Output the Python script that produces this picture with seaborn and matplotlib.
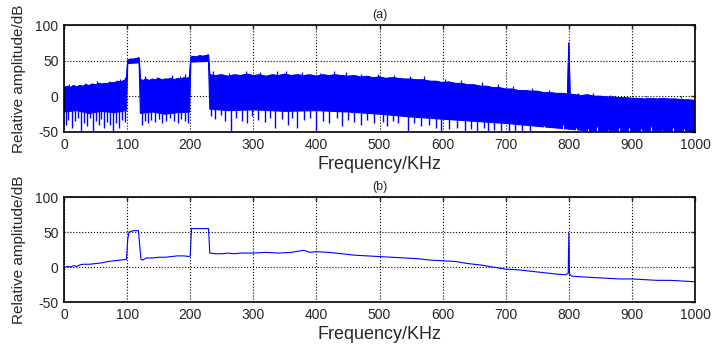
import matplotlib
matplotlib.use("Agg")
import matplotlib.pyplot as plt
import numpy as np
import pandas as pd
import seaborn as sns

# (a) noisy spectrum: upper edge of the dense blue band (kHz, dB)
hi_f = [0, 5, 10, 15, 20, 25, 30, 35, 40, 45, 50, 55, 60, 65, 70, 75, 80, 85, 90, 95, 99,
        101, 105, 110, 115, 119,
        121, 125, 130, 135, 140, 145, 150, 155, 160, 165, 170, 175, 180, 185, 190, 195, 199,
        201, 205, 210, 215, 220, 225, 229,
        231, 240, 250, 260, 270, 280, 290, 300, 310, 320, 330, 340, 350, 360, 370, 380,
        390, 400, 410, 420, 430, 440, 450,
        460, 470, 480, 490, 500, 510, 520, 530, 540, 550, 560, 570, 580, 590, 600, 610,
        620, 630, 640, 650, 660, 670, 680, 690, 700, 710, 720, 730, 740, 750, 760, 770,
        780, 790, 798, 800, 802,
        810, 820, 830, 840, 850, 860, 870, 880, 890, 900, 910, 920, 930, 940, 950, 960,
        970, 980, 990, 1000]
hi_db = [12, 14, 12, 15, 13, 15, 14, 16, 15, 17, 16, 18, 17, 18, 18, 19, 19, 21, 20, 22, 24,
         51, 52, 52, 53, 54,
         24, 22, 24, 22, 24, 23, 25, 23, 24, 24, 25, 23, 25, 24, 26, 25, 27,
         55, 56, 55, 57, 56, 57, 58,
         30, 29, 30, 28, 30, 29, 31, 29, 30, 28, 30, 29, 31, 29, 30, 29,
         30, 28, 30, 29, 30, 29, 28,
         29, 27, 28, 26, 27, 25, 26, 25, 24, 24, 23, 23, 21, 21, 19, 20,
         18, 18, 16, 16, 14, 14, 12, 12, 10, 10, 8, 8, 7, 7, 5, 5,
         4, 4, 3, 75, 3,
         2, 1, 2, 0, 0, -1, -1, -2, -2, -3, -3, -4, -3, -4, -3, -4,
         -4, -5, -5, -6]

# thin upward spikes poking out of the top edge
up_f = [8, 33, 52, 71, 88, 96, 128, 147, 171, 183, 192, 236, 262, 289, 311, 338, 352,
        377, 405, 428, 447, 471, 498, 523, 548, 571, 603, 629, 662, 688, 712, 741, 768,
        815, 838, 866, 889, 923, 951, 978]
up_db = [17, 19, 21, 22, 25, 27, 28, 27, 30, 29, 31, 35, 33, 36, 34, 36, 35,
         34, 33, 35, 34, 32, 31, 30, 29, 28, 25, 23, 20, 17, 14, 12, 9,
         5, 4, 2, 1, -1, 0, -2]

# lower edge of the solid part of the band
lo_f = [0, 20, 40, 60, 80, 99, 101, 119, 121, 140, 160, 180, 199, 201, 229, 231, 260, 300,
        350, 400, 450, 500, 550, 600, 650, 700, 750, 800, 850, 900, 950, 1000]
lo_db = [-22, -20, -24, -21, -23, -20, 46, 47, -24, -22, -25, -23, -22, 48, 49, -18, -20, -19,
         -21, -20, -22, -25, -29, -32, -35, -38, -42, -46, -50, -50, -50, -50]

# deep downward spikes below the solid band
spike_f = [3, 7, 12, 17, 22, 27, 31, 36, 41, 46, 50, 55, 59, 64, 68, 73, 78, 83, 87, 92, 97,
           123, 128, 133, 138, 144, 150, 156, 162, 168, 174, 180, 186, 192, 197,
           233, 240, 248, 255, 265, 272, 282, 290, 298, 308, 318, 327, 335, 345, 355, 362,
           370, 380, 390, 400, 410, 420, 432, 440, 450,
           460, 470, 480, 492, 505, 512, 522, 530, 545, 555, 565, 578, 590, 598, 610, 622,
           635, 645, 655, 665, 672, 682, 692, 705, 715, 725, 738]
spike_db = [-40, -33, -45, -35, -30, -50, -38, -42, -30, -50, -35, -40, -32, -45, -36, -40, -50, -38, -44, -33, -36,
            -40, -35, -38, -33, -36, -32, -38, -34, -30, -35, -38, -32, -34, -38,
            -28, -32, -26, -35, -50, -30, -34, -38, -28, -33, -36, -30, -45, -32, -40, -30,
            -44, -33, -30, -48, -34, -38, -30, -42, -33,
            -36, -40, -33, -38, -36, -42, -35, -38, -48, -38, -42, -40, -44, -50, -46, -44,
            -50, -46, -48, -44, -50, -47, -49, -48, -50, -49, -50]

# small white gaps rising from the floor at high frequency
gap_f = [760, 775, 790, 812, 830, 845, 862, 880, 895, 915, 930, 948, 965, 982]
gap_db = [-42, -45, -40, -44, -46, -43, -47, -44, -45, -46, -43, -47, -44, -46]

# (b) smoothed spectrum
smooth_f = [0, 5, 10, 15, 20, 25, 30, 40, 50, 60, 70, 80, 90, 99, 101, 103, 110, 118, 120,
            122, 125, 130, 140, 150, 160, 170, 180, 190, 198, 200, 202, 215, 229, 231, 240,
            250, 260, 270, 280, 290, 300, 320, 340, 360, 380, 390, 400, 420, 440, 460, 480,
            500, 520, 540, 560, 580, 600, 620, 640, 660, 680, 700, 720, 740, 760, 780, 795,
            799, 800, 801, 805, 820, 840, 860, 880, 900, 920, 940, 960, 980, 1000]
smooth_db = [-1, 1, 0, 2, 1, 3, 4, 4, 5, 6, 8, 9, 10, 11, 40, 50, 52, 52, 30,
             11, 10, 13, 13, 14, 14, 15, 16, 16, 15, 16, 55, 55, 55, 20, 19,
             19, 20, 19, 20, 20, 20, 21, 20, 21, 24, 21, 22, 21, 19, 17, 16,
             15, 14, 13, 12, 10, 9, 8, 5, 3, 0, -3, -4, -6, -8, -10, -11,
             -9, 48, -10, -13, -14, -15, -16, -17, -17, -18, -19, -19, -20, -21]

sns.set_style("white")
plt.rcParams['font.family'] = ['Liberation Sans', 'DejaVu Sans']
plt.rcParams['axes.unicode_minus'] = False

fig = plt.figure(figsize=(7.13, 3.44), dpi=100)
ax1 = fig.add_axes([0.0898, 0.6163, 0.885, 0.311])
ax2 = fig.add_axes([0.0898, 0.122, 0.885, 0.305])

blue = (0, 0, 1)
ax1.fill(hi_f + lo_f[::-1], hi_db + lo_db[::-1], color=blue, linewidth=0.8)
ax1.vlines(spike_f, spike_db, -15, color=blue, linewidth=1.0)
ax1.vlines(up_f, 0, up_db, color=blue, linewidth=0.9)
ax1.vlines(gap_f, -50, gap_db, color='white', linewidth=0.8)
sns.lineplot(x=hi_f, y=hi_db, ax=ax1, color=blue, linewidth=0.8)

df_b = pd.DataFrame({'f': smooth_f, 'db': smooth_db})
sns.lineplot(data=df_b, x='f', y='db', ax=ax2, color=blue, linewidth=0.8)

for ax, ttl in [(ax1, '(a)'), (ax2, '(b)')]:
    ax.set_xlim(0, 1000)
    ax.set_ylim(-50, 100)
    ax.set_xticks(np.arange(0, 1001, 100))
    ax.set_yticks([-50, 0, 50, 100])
    ax.set_axisbelow(True)
    ax.grid(True, color='black', linestyle=':', linewidth=0.8)
    ax.tick_params(direction='in', top=True, right=True, length=3, width=1,
                   labelsize=10, pad=4)
    for s in ax.spines.values():
        s.set_linewidth(1.2)
        s.set_color('black')
        s.set_zorder(5)
    ax.set_title(ttl, fontsize=9, pad=5)
    ax.set_xlabel('Frequency/KHz', fontsize=13, labelpad=3)
    ax.set_ylabel('Relative amplitude/dB', fontsize=11, labelpad=7)

fig.savefig('out.png', dpi=100)
